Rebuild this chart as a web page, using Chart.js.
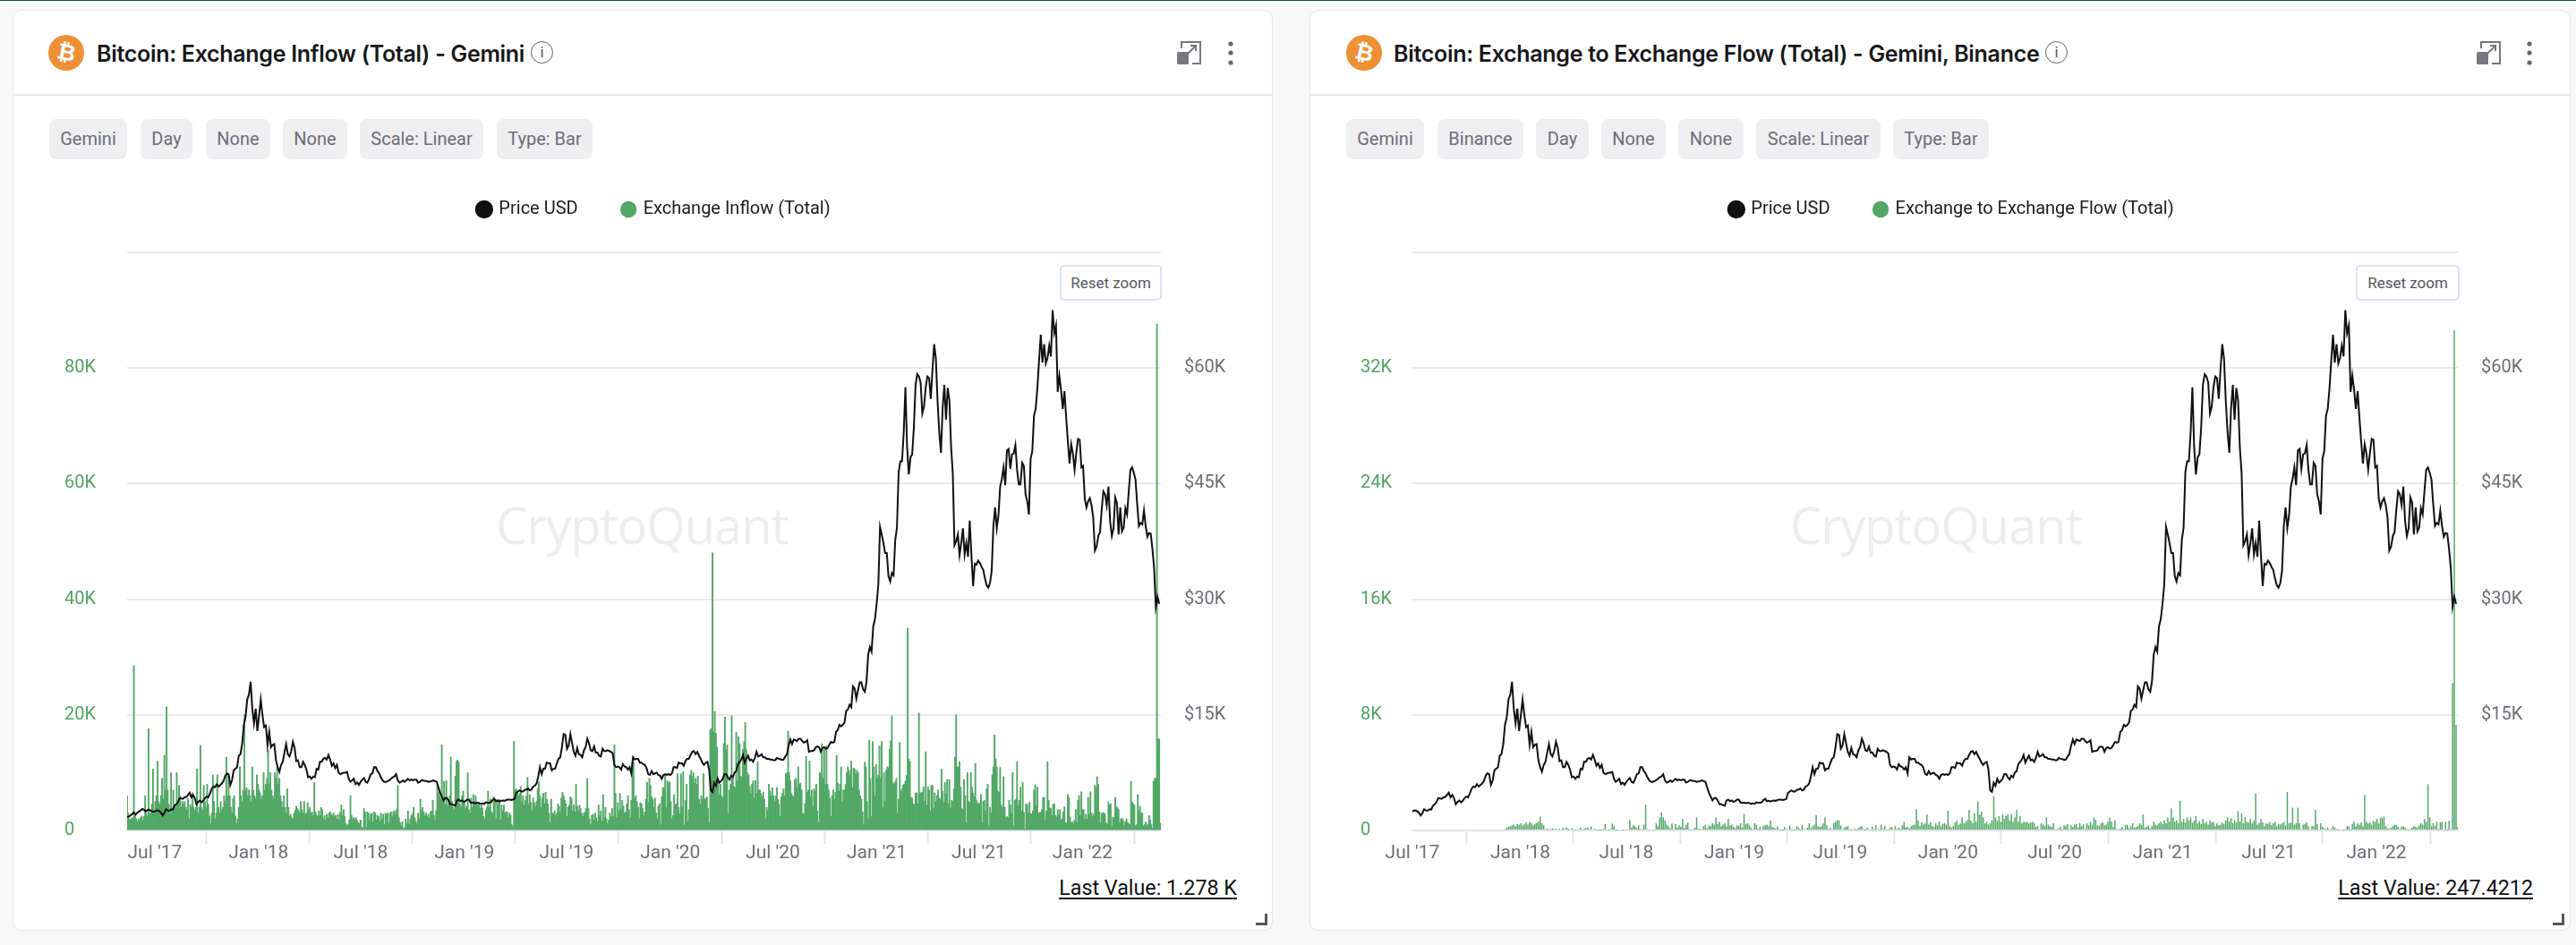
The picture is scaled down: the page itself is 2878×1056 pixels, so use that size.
<!DOCTYPE html>
<html>
<head>
<meta charset="utf-8">
<title>CryptoQuant charts</title>
<script src="https://cdn.jsdelivr.net/npm/chart.js@4"></script>
<style>
html, body { margin: 0; padding: 0; width: 2878px; height: 1056px; overflow: hidden; background: #f8f8f8; font-family: Roboto, sans-serif; }
#topline { position: absolute; left: 0; top: 0; width: 2878px; height: 1px; background: #21463a; }
.abs { position: absolute; }
.card { position: absolute; top: 11px; height: 1029px; background: #fff; border: 1px solid #e7e7e7; border-radius: 10px; box-sizing: border-box; }
.sep { position: absolute; top: 105px; height: 2px; background: #e9e9ea; }
.title { position: absolute; top: 42px; font: 600 25px Inter, sans-serif; letter-spacing: -0.3px; color: #17171a; white-space: nowrap; line-height: 36px; }
.coin { position: absolute; top: 39px; width: 40px; height: 40px; border-radius: 50%; background: #ee9035; color: #fff; font: bold 25px 'DejaVu Sans', sans-serif; text-align: center; line-height: 40px; }
.coin span { display: inline-block; transform: rotate(12deg); }
.info { position: absolute; top: 46px; width: 23px; height: 23px; border: 1.5px solid #5f5f67; border-radius: 50%; color: #55555d; font: 17px Roboto, sans-serif; text-align: center; line-height: 23px; box-sizing: content-box; }
.chip { position: absolute; top: 133px; height: 45px; background: #efeff1; border-radius: 8px; text-align: center; color: #6d6d76; font: 20px/45px Roboto, sans-serif; }
.wm { position: absolute; top: 548px; font: 400 56px 'Open Sans', sans-serif; color: #ecedee; white-space: nowrap; letter-spacing: -1px; }
.reset { position: absolute; top: 296px; height: 40px; box-sizing: border-box; border: 2px solid #dfdff5; border-radius: 5px; background: #fff; color: #55555e; font: 400 17px/36px Roboto, sans-serif; text-align: center; z-index: 3; }
.last { position: absolute; top: 975px; font: 23.3px/34px Roboto, sans-serif; color: #111; text-decoration: underline; text-underline-offset: 3px; white-space: nowrap; }
canvas { position: absolute; top: 174px; z-index: 2; }
</style>
</head>
<body>
<div id="topline"></div>

<div class="card" style="left:14px;width:1408px"></div>
<div class="sep" style="left:15px;width:1406px"></div>
<div class="coin" style="left:54px"><span>&#8383;</span></div>
<div class="title" style="left:108px">Bitcoin: Exchange Inflow (Total) - Gemini</div>
<div class="info" style="left:593px">i</div>
<svg class="abs" style="left:1314px;top:45px" width="30" height="28" viewBox="0 0 30 28">
  <path d="M6 9V2h21v24h-9" fill="none" stroke="#77777f" stroke-width="2"/>
  <rect x="1" y="13" width="13" height="14" rx="1.5" fill="#77777f"/>
  <path d="M13 15l9-9m-6 0h6v6" fill="none" stroke="#77777f" stroke-width="2"/>
</svg>
<svg class="abs" style="left:1370px;top:44px" width="10" height="30"><circle cx="5" cy="5" r="2.6" fill="#66666e"/><circle cx="5" cy="15" r="2.6" fill="#66666e"/><circle cx="5" cy="26" r="2.6" fill="#66666e"/></svg>
<div class="chip" style="left:55px;width:87px">Gemini</div>
<div class="chip" style="left:157px;width:58px">Day</div>
<div class="chip" style="left:230px;width:72px">None</div>
<div class="chip" style="left:316px;width:72px">None</div>
<div class="chip" style="left:402px;width:138px">Scale: Linear</div>
<div class="chip" style="left:555px;width:107px">Type: Bar</div>
<div class="wm" style="left:554px">CryptoQuant</div>
<div class="reset" style="left:1184px;width:114px">Reset zoom</div>
<div class="last" style="right:1496px">Last Value: 1.278 K</div>
<svg class="abs" style="left:1402px;top:1021px" width="14" height="13"><path d="M1 11.5h11.5V0" fill="none" stroke="#55555e" stroke-width="3"/></svg>
<canvas id="inflowChart" width="1376" height="819" style="left:14px"></canvas>

<div class="card" style="left:1463px;width:1409px"></div>
<div class="sep" style="left:1464px;width:1407px"></div>
<div class="coin" style="left:1504px"><span>&#8383;</span></div>
<div class="title" style="left:1557px">Bitcoin: Exchange to Exchange Flow (Total) - Gemini, Binance</div>
<div class="info" style="left:2285px">i</div>
<svg class="abs" style="left:2766px;top:45px" width="30" height="28" viewBox="0 0 30 28">
  <path d="M6 9V2h21v24h-9" fill="none" stroke="#77777f" stroke-width="2"/>
  <rect x="1" y="13" width="13" height="14" rx="1.5" fill="#77777f"/>
  <path d="M13 15l9-9m-6 0h6v6" fill="none" stroke="#77777f" stroke-width="2"/>
</svg>
<svg class="abs" style="left:2821px;top:44px" width="10" height="30"><circle cx="5" cy="5" r="2.6" fill="#66666e"/><circle cx="5" cy="15" r="2.6" fill="#66666e"/><circle cx="5" cy="26" r="2.6" fill="#66666e"/></svg>
<div class="chip" style="left:1504px;width:87px">Gemini</div>
<div class="chip" style="left:1606px;width:96px">Binance</div>
<div class="chip" style="left:1716px;width:59px">Day</div>
<div class="chip" style="left:1789px;width:72px">None</div>
<div class="chip" style="left:1875px;width:73px">None</div>
<div class="chip" style="left:1962px;width:139px">Scale: Linear</div>
<div class="chip" style="left:2115px;width:107px">Type: Bar</div>
<div class="wm" style="left:2000px">CryptoQuant</div>
<div class="reset" style="left:2632px;width:116px">Reset zoom</div>
<div class="last" style="right:48px">Last Value: 247.4212</div>
<svg class="abs" style="left:2851px;top:1021px" width="14" height="13"><path d="M1 11.5h11.5V0" fill="none" stroke="#55555e" stroke-width="3"/></svg>
<canvas id="flowChart" width="1379" height="819" style="left:1463px"></canvas>

<script>
// x axis is in days counted from 13 May 2017
var tickDays = [49, 233, 414, 598, 779, 963, 1145, 1329, 1510, 1694];
var tickLabels = ["Jul '17", "Jan '18", "Jul '18", "Jan '19", "Jul '19", "Jan '20", "Jul '20", "Jan '21", "Jul '21", "Jan '22"];
var lastDay = 1833;

// price in $K, one reading every 3 days from day 0
var priceEvery3Days = [
  1.75,1.8,1.95,2.15,2.35,2.05,2.3,
  2.45,2.6,2.8,2.7,2.45,2.65,2.7,2.55,2.45,2.45,
  2.55,2.6,2.5,2.3,1.95,2.25,2.75,2.6,2.55,2.75,
  2.7,3.2,3.4,3.65,4.2,4.15,4.1,4.3,4.35,4.6,
  4.9,4.3,4.6,4.2,3.4,3.7,3.9,3.65,3.85,4.2,
  4.4,4.3,4.8,5.4,5.7,5.6,6.0,5.7,5.9,6.1,
  6.4,7.1,7.4,7.3,5.9,6.5,7.8,8.0,8.2,9.7,
  9.9,11.2,13.7,14.7,17.0,17.6,19.3,15.8,13.9,15.8,
  12.9,14.9,17.0,15.0,13.4,13.6,11.1,12.8,10.8,11.1,
  11.2,9.1,8.2,7.6,8.5,8.9,10.1,11.2,9.9,9.6,
  10.3,11.5,10.7,9.0,9.1,8.2,8.2,8.9,8.5,7.9,
  6.9,7.0,6.7,7.0,6.9,8.0,7.9,8.9,8.9,9.3,
  9.4,9.2,9.8,9.2,8.4,8.7,8.1,8.5,7.5,7.3,
  7.4,7.5,7.5,7.6,6.7,6.3,6.5,6.7,6.0,6.2,
  5.9,6.3,6.6,6.8,6.3,6.2,6.7,7.3,7.4,8.2,
  8.2,7.7,7.4,6.9,6.5,6.3,6.3,6.4,6.5,6.7,
  6.9,7.0,7.3,6.5,6.2,6.3,6.5,6.3,6.5,6.7,
  6.5,6.6,6.5,6.6,6.6,6.2,6.3,6.5,6.5,6.4,
  6.4,6.3,6.35,6.4,6.5,6.4,6.3,5.6,4.9,4.4,
  3.9,4.2,4.2,3.9,3.4,3.4,3.3,3.2,3.9,4.0,
  3.8,3.9,3.7,3.8,4.0,4.0,3.6,3.6,3.6,3.55,
  3.6,3.55,3.45,3.5,3.45,3.65,3.6,3.6,3.65,3.95,
  4.1,3.8,3.85,3.75,3.85,3.9,3.85,3.95,4.0,4.0,
  3.95,4.0,4.1,4.9,5.05,5.2,5.05,5.05,5.25,5.3,
  5.45,5.2,5.3,5.7,5.8,6.1,7.0,8.2,7.3,8.0,
  8.0,8.8,8.7,8.7,7.8,8.0,8.0,8.7,9.3,9.5,
  10.8,12.5,12.4,10.6,11.0,12.5,11.3,10.2,9.7,10.7,
  9.9,9.8,9.5,10.4,10.8,11.9,11.3,10.4,10.3,10.9,
  10.1,10.1,9.7,9.6,10.6,10.3,10.3,10.4,10.3,10.2,
  10.0,8.5,8.2,8.3,8.2,7.9,8.6,8.3,8.2,7.9,
  8.2,7.4,9.5,9.2,9.3,9.3,8.8,8.8,8.6,8.5,
  8.1,7.3,7.2,7.7,7.3,7.4,7.5,7.2,7.1,6.7,
  7.2,7.3,7.2,7.3,7.2,7.4,8.2,8.2,8.1,8.8,
  8.7,8.7,8.4,9.0,9.3,9.3,9.8,10.2,10.3,9.9,
  10.2,9.7,9.3,8.8,8.5,8.8,8.9,7.9,5.2,5.0,
  6.2,5.8,6.7,6.2,6.4,6.7,7.3,7.3,6.9,6.6,
  7.1,6.9,7.5,7.7,8.6,8.9,9.2,9.8,8.8,9.3,
  9.7,9.1,9.2,8.9,9.4,10.2,9.6,9.7,9.9,9.5,
  9.5,9.3,9.3,9.2,9.2,9.1,9.1,9.4,9.3,9.25,
  9.15,9.2,9.6,9.9,11.0,11.8,11.2,11.8,11.7,11.6,
  11.9,11.9,11.6,11.4,11.5,11.7,10.2,10.3,10.3,10.4,
  10.8,10.9,10.8,10.2,10.7,10.8,10.6,10.7,11.1,11.5,
  11.4,11.5,12.8,13.0,13.7,13.5,13.7,14.0,15.5,15.7,
  16.3,16.0,18.7,18.4,17.1,18.2,19.2,19.2,18.3,18.0,
  19.3,22.8,23.8,23.2,26.5,27.4,29.4,31.9,39.4,38.4,
  37.3,36.0,36.0,33.0,32.3,33.4,33.1,37.7,39.3,46.5,
  47.9,47.9,51.6,57.5,49.7,46.2,48.4,48.8,52.3,57.8,
  59.2,58.9,58.1,54.1,55.0,57.5,58.9,58.7,56.0,59.8,
  63.1,61.2,55.7,51.7,49.0,54.8,57.8,53.3,57.4,55.8,
  49.7,46.4,37.0,37.5,38.4,35.7,37.3,39.2,35.8,37.3,
  35.5,40.2,35.8,31.7,34.6,34.5,35.0,34.7,34.2,33.8,
  32.7,31.8,31.5,32.1,33.7,39.5,41.9,39.2,40.9,44.6,
  45.6,47.1,44.8,49.3,49.5,46.9,48.8,48.9,50.0,46.8,
  44.9,44.9,47.7,47.3,43.6,42.7,41.0,48.2,49.2,53.8,
  54.7,57.4,61.0,64.3,60.7,63.1,60.6,61.3,62.9,61.5,
  67.5,64.5,65.5,56.9,59.0,57.1,54.7,57.0,53.6,50.5,
  47.6,50.1,48.9,46.8,49.0,50.8,50.7,47.1,47.3,43.1,
  41.9,42.7,43.1,42.2,40.6,36.3,36.8,38.2,38.7,41.6,
  44.0,43.6,42.2,44.6,40.1,38.2,39.2,43.2,42.5,38.4,
  41.9,38.8,39.3,41.8,41.0,44.0,46.8,47.1,46.4,45.5,
  42.3,39.5,39.9,39.7,41.5,39.5,38.1,38.6,38.5,36.5,
  34.0,29.0,30.3,29.4
];

// Gemini inflow in K BTC, one bar every 2 days from day 0
var inflowEvery2Days = [
  6,3,2,1.8,2.2,2,28.5,2.5,2,1.5,
  2,1.8,2.2,2.5,1.7,2.4,6,3,2.5,17.6,
  3,3,4.5,10.6,3.5,5,6,12,5,4.5,
  6,9,5.5,13,7,21.4,7,4.5,3,10,
  3.5,7,4.5,4,10,5,7.8,6,4,5,
  4.5,5,4,3.5,5.5,2,4.5,4,6.5,4,
  3.5,4,10.6,3,4,14.7,4,3.5,7.8,5,
  4,8,4.5,2.5,1.2,3,9.6,5,2,3,
  9.6,4,3,5,3.5,4,6,5,12.7,6,
  9.6,6,4,3,5.5,6,2.5,1.2,2,4,
  11,6,5,7,20,7,7.4,6,7,6,
  5,11,7,6,5.5,9.6,8,7,6.5,5.5,
  6,10,7,8,9,14,8,10,7,6,
  5.5,10,9,11,8,9,6,5,4,6,
  4,3,7.2,4,2.5,2.8,2.2,2,3,3.5,
  4.2,3.8,3.5,3,5,3.6,3,5,2.8,3,
  4.8,3.6,4,3,3.2,2.6,8.3,3.2,2.7,2.4,
  3.4,2.6,4,3.6,2,2.6,1.8,2.8,2.2,3,
  3.2,2.8,2.6,3,2.4,2.6,2,2.8,1.8,3.2,
  4.4,2.6,3.6,2.4,1.2,0.9,1,1.8,6,2.6,
  2,2.2,1.8,2.2,1.7,1.4,1.2,1.8,0.6,0.4,
  3.8,3.2,0.6,3.2,3,1.6,2.8,3,1.4,3.2,
  3,1.8,2.6,2.4,1.6,3,2,2.8,1,3,
  2.8,3,1.2,3,3.2,2.4,3.2,3.4,2.8,3.6,
  7.8,2.2,1.4,0.8,1.5,0.3,0.5,2,1.2,3.4,
  1.2,2,2.6,2.8,4,2.2,1.6,1.2,3,2,
  5.4,3.4,4,3.2,2.6,3,2.4,2.8,2.2,3.2,
  3.4,5.2,2.6,1.8,3.4,8,6.6,6,5.4,14.8,
  5,8.5,4.5,8.6,4.2,5,6,12.7,5,4,
  3.6,9.4,12,12.2,11.8,4.6,4,6,6.8,5,
  3.8,4.2,10,3.6,3,5.6,4,6.2,5,6,
  4.6,4.2,4.8,3.8,4.4,3.8,2.4,2,3.5,4,
  6.8,4,5.4,3.2,3,5.8,5.4,2,5.4,4.6,
  5.4,1.8,4.4,3.4,4.4,3,3.2,3.2,2.2,3,
  2.6,1,0.7,15.4,7,7.2,6.6,6,6.4,7.6,
  5,6,4.4,5.2,6,9.2,4.6,6.2,4.8,3.4,
  5.6,4.8,4.2,5,7.2,8.4,6,4,5.6,6.4,
  4.6,6.6,5.4,4.6,3,1.4,5.4,3,2.8,3.4,
  2.6,3,4.6,4.2,3.2,5.6,6.6,6,5.2,4.6,
  2.4,4,4.4,5.8,5.6,3.4,4.4,3.2,8,4.2,
  3.4,4.4,3.8,3,2.4,3,3.2,3.8,9,3.8,
  2,1,2.6,2.8,1.8,3,2.2,1.6,4.4,2.6,
  3.4,1.6,6.2,2.2,4,2,1.2,1.8,3,2.4,
  3.8,2.4,14.8,6.4,2.2,4.8,3.4,6.4,3.6,5.2,
  4.2,3,3.2,4.6,6,3.6,2.2,5.2,11.8,11.8,
  5.6,6,5,4,2,4.8,4.6,3.8,2.6,3.2,
  5.4,8.3,4.8,9,7.8,5.8,5.4,4,5.6,3,
  2,4.2,4.6,1,5.8,7.4,7.4,9.6,4,8.6,
  8.2,8.4,5,2,2.6,6.2,4.4,4.6,9.8,4,
  2.8,9.8,4,10.2,0.9,5.2,8,1.6,3.6,9.6,
  10.4,9.4,10,8.2,9,8,9.4,5.4,4.6,6,
  5.4,9.8,5.4,5.6,5.8,3.8,1.4,17.4,17.6,48,
  17,20.6,16.8,14.4,9,6.2,8,6,5.6,15,
  19.6,14,14.8,3,7,8,19.8,9,7.6,7.4,
  17,8.6,16.2,15,9.4,9.2,14,15.4,18.7,14,
  10,9.6,7.6,6.4,8,8.6,5.6,8.6,6.4,11.9,
  7,7,6.4,5.8,6.6,5.4,2,4,3.4,8,
  6.8,6,7.4,6,5,6,7.4,5.4,4.6,2.4,
  5.8,6.4,7.2,6,9.8,10,17.2,10,8.6,6.4,
  6,5.8,8.8,9,7.4,11,8,8.2,7,3,
  2.8,4.6,12.8,6.6,7,12,5.8,7,4.2,7.2,
  6.8,8,3.4,1.4,10,9.8,15,9,14,8,
  14.6,8,7,5.6,2.4,6,7,5.4,6.6,13,
  8.2,6.8,8,11,5,7,7,8,10,11,
  10.4,9.6,12,7.4,10.8,10.6,9.8,10.4,10,7,
  6,5.4,3.2,1,11.8,11,5,2,15.6,9,
  2.4,15.4,11,6,11.4,9,9.6,14.6,9,15.4,
  4,10,5,10.4,11,10.8,14,15.5,19.8,8.2,
  8,8.4,9,3,5.4,15.2,6.8,7.2,7.8,8,
  8.5,9.5,35,12.4,11.9,5.7,5.6,4.6,4.4,6.5,
  6.5,4.6,20.3,6.5,6.5,6.6,7.5,5,13.6,4.4,
  7.5,7,3.4,7.8,7.8,3.8,6.5,5,6,7,
  5.6,5.4,10.6,6.8,4.8,8.3,6.4,8.8,4.6,8.8,
  3.9,5.2,5,7.2,12.7,20,11,11,11.9,7.5,
  3.8,3.6,8.8,6,1.4,10,5,4.8,10,7.5,
  6.5,5.8,11.6,5.2,4.6,4.8,4.6,6.2,1.4,5,
  5.2,3.4,7.2,8,0.8,4,3,9.6,11,16.5,
  12.4,11,6.8,6.6,10.9,4.4,4,9.3,4,2.2,
  2.4,2.2,5.2,4.4,3,10,0.8,5.2,5.4,11.9,
  4.4,5.2,7.5,3.4,8.3,3.1,0.2,4.6,4.4,3,
  4.9,2.8,2.9,3.4,7,7.9,4.4,7.5,3,3.1,
  3.1,3.6,5.7,5.7,1.8,3.4,11.9,5.2,3.9,3.8,
  2.6,4.5,4.6,2.6,2.3,3.6,2.7,3.6,1.8,2,
  3.2,4.1,1.3,1.3,6.2,5.7,2.3,1.3,1.5,1.2,
  1.8,3.6,1.3,5.2,6,2.6,6.7,3.6,3.6,2,
  2.8,2,5.7,2.8,6.7,3,2.4,2.8,7.8,7.4,
  9.3,8,3.2,1.3,2.9,3.1,3,2.8,1.3,1.1,
  4.9,4.4,4.6,0.8,2.3,2.2,5.7,4.1,3.9,3.6,
  1.3,2,2.1,1.8,0.8,1.5,2,1.4,1.2,1,
  8.5,4.9,4.6,4.4,0.8,1,6.2,3.4,4.2,3.1,
  3,0.8,1,1.5,0.8,1.1,2.6,1.8,1,0.4,
  8.5,9,9,87.6,15.8,15.8,1.278
];

// Gemini to Binance flow in K BTC, one bar every 3 days from day 207
var flowStartDay = 207;
var flowEvery3Days = [
  0.1,0.2,0.25,0.3,0.35,0.4,0.3,0.45,0.4,0.5,
  0.35,0.45,0.55,0.4,0.6,0.5,0.35,0.45,0.5,0.6,
  0.95,0.5,0.35,0.1,0.12,0.08,0.1,0.15,0.1,0.12,
  0.08,0.12,0.05,0.18,0.1,0.2,0.12,0.05,0.15,0.1,
  0.03,0.05,0.1,0.18,0.08,0.12,0.15,0.2,0.1,0.25,
  0.05,0.12,0.04,0.02,0.03,0.02,0.1,0.45,0.05,0.02,
  0.08,0.48,0.3,0.05,0.02,0,0,0.02,0,0,
  0.05,0.72,0.2,0.35,0.3,0.15,0.35,0.1,0.08,0.4,
  1.78,0.08,0.05,0.06,0.05,0.08,0.5,0.3,0.9,1.26,
  0.9,0.7,0.4,0.3,0.15,0.5,0.1,0.45,0.2,0.35,
  0.25,0.8,0.15,0.4,0.55,0.1,0.05,0.1,0.2,0.9,
  0.1,0.12,0.08,0.3,0.4,0.15,0.35,0.3,0.5,0.4,
  0.9,0.45,0.6,0.3,0.4,0.5,0.3,0.8,0.35,0.4,
  0.25,0.15,0.35,0.3,0.5,0.2,1.15,0.45,0.5,0.35,
  0.2,0.05,0.5,0.4,0.12,0.25,0.1,0.3,0.35,0.4,
  0.3,0.7,0.25,0.2,0.12,0.3,0.1,0.03,0.02,0.25,
  0.1,0.05,0.35,0.1,0.05,0.02,0.3,0.2,0.02,0.4,
  0.1,0.08,0.2,0.5,0.15,0.3,0.4,1.05,0.3,0.25,
  0.3,0.5,0.9,0.35,0.1,0.2,0.05,0.5,0.6,0.7,
  0.7,0.35,0.05,0.2,0.25,0.3,0.1,0.03,0.08,0.12,
  0.02,0.15,0.25,0.3,0.1,0.02,0.2,0.1,0.05,0.25,
  0.02,0.35,0.1,0.02,0.4,0.1,0.3,0.05,0.03,0.2,
  0.25,0.05,0.3,0.1,0.2,0.02,0.35,0.6,0.2,0.25,
  0.15,0.3,0.35,0.4,1.47,0.7,0.3,0.55,0.4,0.5,
  1.1,0.4,0.55,0.3,0.25,0.5,0.35,0.6,0.3,0.45,
  0.5,0.4,1.37,0.3,0.2,0.3,0.55,0.7,0.4,0.5,
  0.9,0.5,0.6,0.7,1.43,0.7,0.5,1.2,0.6,2.0,
  1.1,1.3,0.9,0.5,0.6,0.4,0.5,0.7,2.36,0.9,
  0.7,1.0,0.6,1.1,0.8,1.0,1.1,0.7,1.15,0.6,
  0.9,1.43,0.6,1.0,0.5,0.6,0.55,0.6,0.5,0.55,
  0.6,0.5,0.25,0.3,0.05,0.5,0.4,0.3,0.9,0.4,
  0.3,0.25,0.5,0.1,0.05,0.15,0.25,0.1,0.35,0.3,
  0.45,0.1,0.35,0.25,0.4,0.45,0.2,0.5,0.3,0.45,
  0.1,0.5,0.35,0.6,0.4,0.9,0.75,0.35,0.3,0.5,
  0.55,0.35,0.4,0.6,0.9,0.6,0.25,0.7,0.1,0.05,
  0.12,0.25,0.1,0.35,0.4,0.15,0.3,0.5,0.2,0.25,
  0.3,0.5,0.4,1.1,0.2,0.25,0.35,0.15,0.3,0.6,
  0.4,0.35,0.5,0.6,0.45,0.7,0.5,0.9,0.6,1.53,
  0.9,0.6,0.7,0.5,2.05,0.6,0.8,0.55,0.9,0.7,
  0.9,0.55,0.7,1.0,0.5,0.65,0.45,0.8,0.5,0.6,
  0.4,0.7,0.55,0.6,0.3,0.5,0.35,0.4,0.55,0.45,
  0.7,0.9,0.6,0.85,0.5,0.7,0.55,1.32,0.6,1.2,
  0.5,0.9,0.6,0.55,0.8,0.5,0.7,2.57,0.4,0.5,
  0.8,0.55,0.3,0.5,0.45,0.6,0.35,0.5,0.6,0.3,
  0.45,0.4,0.5,0.6,0.35,2.67,0.5,0.55,1.57,0.4,
  0.5,1.57,0.5,0.05,0.4,0.45,0.55,0.3,0.1,0.3,
  0.3,1.43,0.45,0.05,0.5,0.25,0.15,0.1,0.2,0.05,
  0.12,0.3,0.2,0.1,0.02,0,0,0.02,0.1,0.3,
  0.3,0.02,0.45,0.6,0.3,0.5,0.4,0.55,0.3,2.46,
  0.6,0.5,0.55,0.4,0.65,0.6,0.8,0.5,0.9,0.85,
  0.95,0.3,0.15,0.1,0.2,0.3,0.4,0.35,0.25,0.1,
  0.25,0.3,0.2,0.1,0.02,0.1,0.2,0.3,0.25,0.2,
  0.35,0.5,0.4,0.8,0.6,3.2,0.9,0.3,0.5,0.3,
  0.6,0.02,0.55,0.6,0.05,0.6,0.02,0.65,0.03,10.2,
  34.6,7.3,0.247
];

var priceColor = '#111114';
var barColor = '#52a866';
var greenText = '#4ea561';
var grayText = '#6e6e76';

var pricePoints = priceEvery3Days.map(function (v, i) { return { x: i * 3, y: v }; });
var inflowPoints = inflowEvery2Days.map(function (v, i) { return { x: i * 2, y: v }; });
var flowPoints = flowEvery3Days.map(function (v, i) { return { x: flowStartDay + i * 3, y: v }; });

Chart.defaults.font.family = 'Roboto, sans-serif';
Chart.defaults.font.size = 20;

/* extra room under the legend, same trick as a bigger legend box */
var legendGap = {
  id: 'legendGap',
  beforeInit: function (chart) {
    var fit = chart.legend.fit;
    chart.legend.fit = function () {
      fit.call(chart.legend);
      this.height += 28;
    };
  }
};

function makeChart(id, barName, barPoints, barPct, xMin, yMax, yStep, padLeft, leftWidth, rightWidth) {
  return new Chart(document.getElementById(id), {
    type: 'bar',
    plugins: [legendGap],
    data: {
      datasets: [
        { type: 'line', label: 'Price USD', data: pricePoints, yAxisID: 'price', borderColor: priceColor, backgroundColor: priceColor, borderWidth: 2, pointRadius: 0, tension: 0 },
        { type: 'bar', label: barName, data: barPoints, yAxisID: 'y', backgroundColor: barColor, borderWidth: 0, barPercentage: barPct, categoryPercentage: 1 }
      ]
    },
    options: {
      responsive: false,
      animation: false,
      devicePixelRatio: 1,
      layout: { padding: { left: padLeft } },
      plugins: {
        tooltip: { enabled: false },
        legend: {
          position: 'top',
          labels: { usePointStyle: true, pointStyle: 'circle', boxWidth: 13, boxHeight: 13, padding: 50, color: '#1c1c20', font: { size: 20 } }
        }
      },
      scales: {
        x: {
          type: 'linear', min: xMin, max: lastDay, offset: false,
          afterBuildTicks: function (s) { s.ticks = tickDays.map(function (d) { return { value: d }; }); },
          afterFit: function (s) { s.height = 65; },
          grid: { drawOnChartArea: false, tickLength: 15, tickColor: '#e3e3ea', tickWidth: 2 },
          border: { color: '#e3e3ea', width: 2 },
          ticks: {
            padding: -2, color: grayText, autoSkip: false, maxRotation: 0, font: { size: 21 },
            callback: function (v) { return tickLabels[tickDays.indexOf(v)]; }
          }
        },
        y: {
          position: 'left', min: 0, max: yMax,
          afterFit: function (s) { s.width = leftWidth; },
          grid: { color: '#e9e9ec', lineWidth: 2, drawTicks: false },
          border: { display: false },
          ticks: {
            stepSize: yStep, crossAlign: 'far', color: greenText, font: { size: 20 },
            callback: function (v) { return v === 0 ? '0' : v === yMax ? '' : v + 'K'; }
          }
        },
        price: {
          position: 'right', min: 0, max: 75,
          afterFit: function (s) { s.width = rightWidth; },
          grid: { display: false },
          border: { display: false },
          ticks: {
            stepSize: 15, padding: 18, color: grayText, font: { size: 20 },
            callback: function (v) { return v === 0 || v === 75 ? '' : '$' + v + 'K'; }
          }
        }
      }
    }
  });
}

makeChart('inflowChart', 'Exchange Inflow (Total)', inflowPoints, 1, 0, 100, 20, 58, 70, 93);
makeChart('flowChart', 'Exchange to Exchange Flow (Total)', flowPoints, 0.75, 49, 40, 8, 57, 58, 96);
</script>
</body>
</html>
